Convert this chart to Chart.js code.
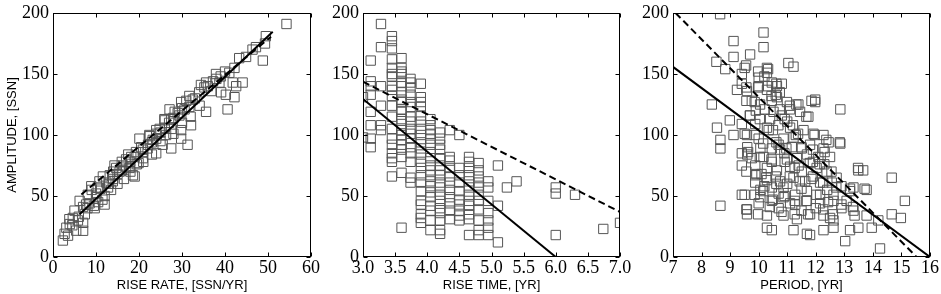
<!DOCTYPE html>
<html><head><meta charset="utf-8">
<script src="https://cdn.jsdelivr.net/npm/chart.js@4"></script>
<style>
html,body{margin:0;padding:0;background:#fff;}
#wrap{position:relative;width:941px;height:294px;background:#fff;}
canvas{position:absolute;left:0;top:0;}
</style></head><body>
<div id="wrap">
<canvas id="c1" width="941" height="294"></canvas>
<canvas id="c2" width="941" height="294"></canvas>
<canvas id="c3" width="941" height="294"></canvas>
</div>
<script>
// ---- Panel 1: rise rate vs amplitude ----
const rateAmpPoints = [
[54.3,191],[49.5,181],[49.3,175],[48.8,161],[46.4,170],[47.2,172],[44.9,164],[43.3,163],[42.2,155],[41,151],
[41.8,143],[44.1,143],[42.6,140],[42.2,131],[40.6,121],[40.2,133],[39.1,135],[37.9,150],[38.7,143],[37.2,144],
[36.8,136],[35.6,143],[35.2,139],[34.4,141],[35.6,119],[34.1,124],[32.5,129],[31.7,132],[31.7,123],[32.1,108],
[31.3,92],[29.8,127],[30.6,121],[29.4,116],[28.3,119],[27.5,113],[27.5,105],[27.1,121],[25.9,113],[26.3,100],
[27.5,89],[29.8,97],[29.8,104],[25.5,92],[24.8,105],[24,101],[23.2,96],[24,85],[22.4,100],[22.1,92],
[20.9,88],[20.9,81],[19.9,77],[20.1,97],[19.3,86],[18.2,82],[18.6,67],[17.8,73],[17,80],[16.3,75],
[15.5,70],[14.7,73],[14.3,75],[13.9,62],[13.2,67],[12.8,57],[12.4,61],[11.6,66],[10.8,62],[10.4,57],
[10.1,49],[9.7,40],[8.9,58],[8.1,51],[7.7,43],[7.4,35],[7,28],[6.2,46],[5,38],[4.6,32],
[3.9,27],[3.1,24],[2.7,19],[2.3,13.5],[3.5,17.5],[5.4,21.6],[5.8,30],[7,21.5],
[9,55],[10,52],[11,56],[12,50],[11.5,47],[8.5,44],[9.5,42],[10.5,45],[13,60],[14,64],
[15,68],[16,71],[17,74],[18,78],[19,82],[21,86],[22,89],[23,94],[24,97],[25,102],
[26,106],[27,110],[28,114],[29,118],[30,122],[31,128],[33,130],[34,135],[36,140],[38,146],
[39,148],[40,152],[13.5,55],[15,60],[16.5,64],[18,70],[19.5,76],[12,43],[14,70],[16,78],
[17.5,84],[20.5,90],[22.5,99],[24,104],[26,112],[19,66],[21,78],[23,84],[25,95],[28,101],
[30,110],[32,115],[4.5,26],[3.8,31],[6,33],[8,40],[7,41]
];
const rateSolidFit = [[6.2,35],[51.1,184.6]];
const rateDashedFit = [[6.6,51.2],[50.7,180.6]];

// ---- Panel 2: rise time vs amplitude ----
const timeAmpPoints = [
[3.0,131],[3.0,98],
[3.12,161],[3.12,144],[3.12,140],[3.12,133],[3.12,119],[3.12,108],[3.12,97],[3.12,90],
[3.28,191],[3.28,172],[3.28,140],[3.28,124],[3.28,108],[3.28,104],
[3.45,181],[3.45,177],[3.45,171],[3.45,162],[3.45,155],[3.45,150],[3.45,148],[3.45,140],[3.45,137],[3.45,132],
[3.45,124],[3.45,115],[3.45,105],[3.45,97],[3.45,92],[3.45,85],[3.45,81],[3.45,78],[3.45,66],
[3.6,163],[3.6,155],[3.6,152],[3.6,150],[3.6,143],[3.6,140],[3.6,135],[3.6,129],[3.6,127],[3.6,121],
[3.6,119],[3.6,113],[3.6,109],[3.6,104],[3.6,100],[3.6,96],[3.6,92],[3.6,88],[3.6,82],[3.6,69],[3.6,24],
[3.74,146],[3.74,143],[3.74,139],[3.74,133],[3.74,127],[3.74,123],[3.74,115],[3.74,111],[3.74,105],[3.74,101],
[3.74,97],[3.74,90],[3.74,85],[3.74,78],[3.74,65],[3.74,61],
[3.9,142],[3.9,131],[3.9,127],[3.9,123],[3.9,116],[3.9,111],[3.9,105],[3.9,100],[3.9,94],[3.9,89],
[3.9,84],[3.9,78],[3.9,73],[3.9,67],[3.9,61],[3.9,54],[3.9,46],[3.9,43],[3.9,35],[3.9,32],[3.9,28],
[4.05,113],[4.05,108],[4.05,104],[4.05,101],[4.05,97],[4.05,92],[4.05,86],[4.05,81],[4.05,75],[4.05,71],
[4.05,67],[4.05,62],[4.05,58],[4.05,53],[4.05,49],[4.05,42],[4.05,38],[4.05,30],[4.05,22],
[4.2,102],[4.2,97],[4.2,92],[4.2,88],[4.2,81],[4.2,75],[4.2,71],[4.2,67],[4.2,61],[4.2,57],
[4.2,51],[4.2,46],[4.2,40],[4.2,36],[4.2,30],[4.2,22],[4.2,19],
[4.35,104],[4.35,82],[4.35,79],[4.35,73],[4.35,66],[4.35,61],[4.35,55],[4.35,49],[4.35,44],[4.35,38],[4.35,31],
[4.5,100],[4.5,73],[4.5,67],[4.5,61],[4.5,54],[4.5,47],[4.5,43],[4.5,38],[4.5,34],[4.5,30],
[4.65,82],[4.65,78],[4.65,73],[4.65,67],[4.65,62],[4.65,57],[4.65,51],[4.65,46],[4.65,42],[4.65,35],[4.65,31],[4.65,18],
[4.8,77],[4.8,71],[4.8,66],[4.8,61],[4.8,57],[4.8,51],[4.8,46],[4.8,39],[4.8,30],[4.8,22],[4.8,18],
[4.95,62],[4.95,57],[4.95,46],[4.95,36],[4.95,30],[4.95,24],[4.95,18],
[5.1,75],[5.1,42],[5.1,12],
[5.24,57],[5.39,62],[6.0,57],[6.0,52],[6.0,18],[6.3,51],[6.74,23],[7.0,28]
];
const timeSolidFit = [[3.0,129.5],[6.0,0]];
const timeDashedFit = [[3.0,143.7],[7.0,36.9]];

// ---- Panel 3: period vs amplitude ----
const periodAmpPoints = [
[8.65,199],[10.17,184],[10.17,172],[9.12,177],[9.12,164],[9.7,166],[8.52,160],[8.83,154],[9.56,157],[11.04,159],
[11.22,156],[10.29,155],[10.29,151],[9.41,150],[9.41,142],[10.0,147],[10.0,140],[10.46,143],[10.64,140],[10.81,142],
[10.29,137],[9.24,137],[9.59,136],[9.76,128],[8.36,125],[10.05,125],[10.46,128],[10.64,131],[10.99,127],[11.39,125],
[11.98,127],[11.98,129],[12.86,121],[11.1,121],[11.45,119],[11.74,115],[10.52,119],[10.81,116],[9.7,116],[8.99,112],
[9.41,109],[8.54,106],[9.88,109],[10.29,106],[10.69,108],[11.1,106],[11.57,104],[10.35,104],[9.59,100],[9.12,100],
[8.66,96],[8.66,89],[10.0,97],[10.87,97],[11.22,98],[11.92,101],[12.27,100],[12.45,94],[12.86,93],[10.06,89],
[10.46,89],[10.75,88],[11.16,90],[11.51,89],[11.8,92],[12.27,89],[9.41,85],[9.41,75],[9.76,81],[10.17,82],
[10.46,78],[10.99,80],[11.34,81],[11.69,84],[12.09,82],[12.5,82],[9.88,75],[10.29,73],[10.64,71],[11.1,74],
[11.51,70],[12.03,73],[12.38,70],[12.73,65],[13.49,71],[13.66,71],[14.66,65],[9.88,67],[10.29,63],[10.75,62],
[11.22,65],[11.63,62],[12.15,61],[12.56,61],[9.88,61],[10.06,55],[10.46,57],[10.87,57],[11.28,51],[11.69,54],
[12.15,51],[12.62,51],[13.2,54],[13.78,55],[13.32,57],[9.41,51],[10.06,49],[10.46,46],[10.87,49],[11.28,43],
[11.69,46],[12.15,44],[12.62,46],[13.08,46],[8.66,42],[9.59,39],[9.59,35],[10.29,34],[10.87,34],[11.34,31],
[11.8,35],[12.27,34],[13.32,38],[13.78,34],[14.19,30],[15.12,46],[14.66,35],[14.98,32],[10.29,24],[10.46,22],
[11.22,22],[11.69,19],[11.8,18],[12.27,22],[12.62,24],[13.2,22],[13.03,13],[13.49,24],[13.96,24],[14.25,7],
[12.5,32],[12.62,30],[10.2,148],[10.6,133],[9.9,120],[10.4,113],[11.0,111],[11.3,100],[10.7,92],[9.6,90],
[9.6,84],[10.9,85],[11.9,78],[12.3,76],[11.4,75],[10.1,68],[10.6,66],[11.9,66],[12.9,58],[10.2,58],
[11.0,60],[11.5,56],[12.4,55],[10.7,52],[11.1,44],[12.0,40],[10.7,40],[11.5,38],[12.9,40],[10.0,44],
[9.51,155],[9.98,152],[10.33,154],[9.57,139],[9.98,139],[10.33,140],[10.62,142],[10.45,132],[10.74,135],[11.09,124],
[11.32,125],[11.85,128],[9.57,128],[9.86,127],[10.21,121],[10.74,121],[11.67,115],[9.69,116],[10.04,113],[10.5,104],
[10.91,113],[11.2,108],[11.38,101],[11.96,100],[12.37,96],[12.84,94],[9.51,101],[9.86,100],[10.16,93],[10.62,94],
[10.97,89],[11.5,90],[11.9,88],[12.31,86],[9.63,86],[10.04,82],[10.45,80],[10.91,78],[11.26,73],[11.79,77],
[12.14,76],[12.55,70],[13.48,73],[9.57,70],[9.92,68],[10.27,65],[10.62,60],[11.09,66],[11.44,62],[11.85,64],
[12.26,61],[12.72,57],[13.2,56],[13.71,56],[9.51,51],[9.86,51],[10.16,54],[10.5,47],[10.91,50],[11.26,46],
[11.67,46],[12.02,51],[12.43,45],[12.9,43],[13.3,41],[9.57,39],[9.98,35],[10.39,41],[10.8,37],[11.26,35],
[11.73,35],[12.26,39],[12.6,35],[13.36,34]
];
const periodSolidFit = [[7,155.8],[16,0]];
const periodDashedFit = [[7.09,200],[15.53,0]];

// ---- axis settings ----
const panelTitlesX = ['RISE RATE, [SSN/YR]', 'RISE TIME, [YR]', 'PERIOD, [YR]'];
const panelTitleY = 'AMPLITUDE, [SSN]';
const xRanges = [[0,60,10],[3,7,0.5],[7,16,1]];
const yRange = [0,200,50];

const framePlugin = {
  id: 'frameTicks',
  afterDatasetsDraw(chart) {
    const {ctx, chartArea: a, scales} = chart;
    ctx.save();
    ctx.strokeStyle = '#000';
    ctx.lineWidth = 1;
    const l = Math.round(a.left) + 0.5, t = Math.round(a.top) + 0.5;
    const r = Math.round(a.right) - 0.5, b = Math.round(a.bottom) - 0.5;
    ctx.strokeRect(l, t, r - l, b - t);
    const L = 4;
    ctx.beginPath();
    scales.x.ticks.forEach(tk => {
      const px = Math.round(scales.x.getPixelForValue(tk.value)) + 0.5;
      ctx.moveTo(px, b); ctx.lineTo(px, b - L);
      ctx.moveTo(px, t); ctx.lineTo(px, t + L);
    });
    scales.y.ticks.forEach(tk => {
      const py = Math.round(scales.y.getPixelForValue(tk.value)) + 0.5;
      ctx.moveTo(l, py); ctx.lineTo(l + L, py);
      ctx.moveTo(r, py); ctx.lineTo(r - L, py);
    });
    ctx.stroke();
    ctx.restore();
  }
};

function toXY(arr) { return arr.map(p => ({x: p[0], y: p[1]})); }

function makePanel(id, idx, points, solid, dashed, padLeft, padRight, showYTitle, decimals) {
  const xr = xRanges[idx];
  new Chart(document.getElementById(id), {
    type: 'scatter',
    data: { datasets: [
      { data: toXY(points), pointStyle: 'rect', pointRadius: 6.6, pointBorderWidth: 1,
        pointBorderColor: '#555', pointBackgroundColor: 'rgba(0,0,0,0)', order: 2, clip: 0 },
      { data: toXY(solid), showLine: true, borderColor: '#000', borderWidth: 2, pointRadius: 0, order: 0, clip: 0 },
      { data: toXY(dashed), showLine: true, borderColor: '#000', borderWidth: 2, borderDash: [7,4], pointRadius: 0, order: 0, clip: 0 }
    ]},
    options: {
      responsive: false, animation: false, devicePixelRatio: 1,
      layout: { padding: { left: padLeft, right: padRight, top: 9, bottom: 0 } },
      plugins: { legend: { display: false }, tooltip: { enabled: false } },
      scales: {
        x: { type: 'linear', min: xr[0], max: xr[1],
          grid: { display: false, drawTicks: false }, border: { display: false },
          ticks: { stepSize: xr[2], autoSkip: false, maxRotation: 0, padding: 2, color: '#000',
            font: { family: 'Liberation Serif', size: 18, lineHeight: 1 },
            callback: v => v.toFixed(decimals) },
          title: { display: true, text: panelTitlesX[idx], color: '#000',
            font: { family: 'Liberation Sans', size: 13, lineHeight: 1.2 }, padding: { top: 0, bottom: 1 } },
          afterFit(s) { s.height = 37; }
        },
        y: { type: 'linear', min: yRange[0], max: yRange[1],
          grid: { display: false, drawTicks: false }, border: { display: false },
          ticks: { stepSize: yRange[2], padding: 4, color: '#000',
            font: { family: 'Liberation Serif', size: 18, lineHeight: 1 } },
          title: { display: showYTitle, text: panelTitleY, color: '#000',
            font: { family: 'Liberation Sans', size: 13, lineHeight: 1.2 }, padding: { top: 5, bottom: 0 } },
          afterFit(s) { s.width = 53; }
        }
      }
    },
    plugins: [framePlugin]
  });
}

makePanel('c1', 0, rateAmpPoints, rateSolidFit, rateDashedFit, 0, 630, true, 0);
makePanel('c2', 1, timeAmpPoints, timeSolidFit, timeDashedFit, 310, 321, false, 1);
makePanel('c3', 2, periodAmpPoints, periodSolidFit, periodDashedFit, 620, 11, false, 0);
</script>
</body></html>
